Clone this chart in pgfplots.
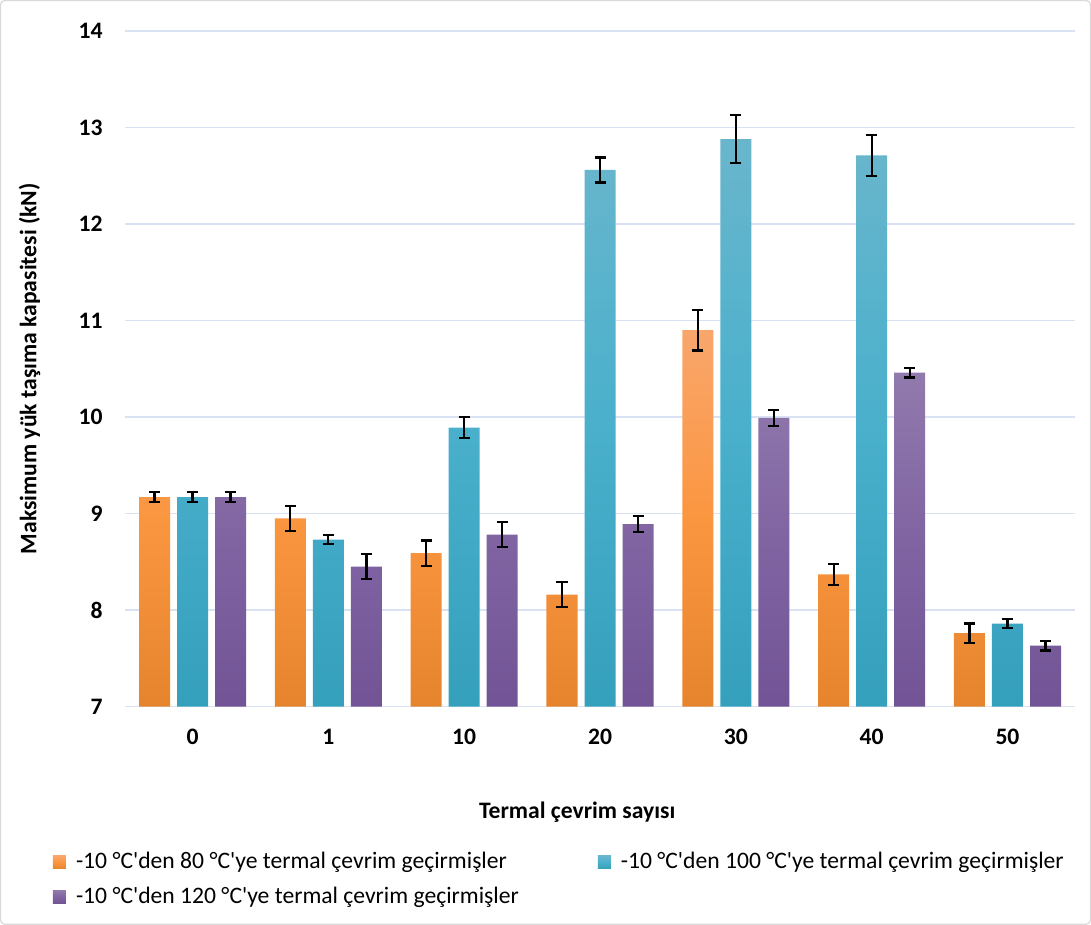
\documentclass[border=0pt]{standalone}
\usepackage{pgfplots}
\pgfplotsset{compat=1.18}
\usepackage{fontspec}
\setmainfont{Carlito}[Ligatures=TeXOff]
\definecolor{gridc}{HTML}{D9E2F3}
\definecolor{oTop}{HTML}{F9A66C}
\definecolor{oMid}{HTML}{FB9640}
\definecolor{oBot}{HTML}{E6842E}
\definecolor{bTop}{HTML}{69B6CC}
\definecolor{bMid}{HTML}{4AB0CC}
\definecolor{bBot}{HTML}{35A0BC}
\definecolor{pTop}{HTML}{917AAD}
\definecolor{pMid}{HTML}{8064A2}
\definecolor{pBot}{HTML}{725496}
\begin{document}
\begin{tikzpicture}
\begin{axis}[
  scale only axis, width=475pt, height=337.5pt,
  ybar=3.5pt, bar width=15.5pt,
  xmin=-0.5, xmax=6.5, ymin=7, ymax=14,
  y coord trafo/.code={\pgfmathparse{#1-7}},
  y coord inv trafo/.code={\pgfmathparse{#1+7}},
  ytick={7,8,9,10,11,12,13,14},
  xtick={0,1,2,3,4,5,6}, xticklabels={0,1,10,20,30,40,50},
  ymajorgrids, grid style={gridc, line width=0.9pt},
  axis line style={draw=none},
  major tick length=0pt,
  tick label style={font=\fontsize{11.8}{14}\selectfont\bfseries},
  /pgf/number format/assume math mode=true,
  yticklabel style={xshift=-7.5pt},
  xticklabel style={yshift=-7.6pt},
  xlabel={Termal çevrim sayısı},
  ylabel={Maksimum yük taşıma kapasitesi (kN)},
  label style={font=\fontsize{11.8}{14}\selectfont\bfseries},
  xlabel style={at={(axis description cs:0.476,-0.157)}, anchor=center},
  ylabel style={at={(axis description cs:-0.1,0.5)}, anchor=center},
  legend style={at={(axis description cs:-0.0758,-0.2110)}, anchor=north west, draw=none, fill=none,
    inner sep=0pt, nodes={inner sep=1.5pt},
    font=\fontsize{11.8}{14}\selectfont, /tikz/every even column/.append style={column sep=38pt}, row sep=4.5pt},
  legend columns=2,
  legend cell align=left,
  legend image code/.code={\fill[#1] (0pt,-3.25pt) rectangle (6.5pt,3.25pt); \path (0pt,0pt) -- (10pt,0pt);},
  error bars/y dir=both, error bars/y explicit,
  error bars/error bar style={line width=1.1pt, black},
  error bars/error mark options={rotate=90, mark size=2.75pt, line width=1.1pt, black},
  clip=false,
]
\addplot[draw=none, top color=oTop, bottom color=oBot, middle color=oMid] coordinates {
  (0,9.17) +- (0,0.05) (1,8.95) +- (0,0.13) (2,8.59) +- (0,0.13) (3,8.16) +- (0,0.13)
  (4,10.90) +- (0,0.21) (5,8.37) +- (0,0.11) (6,7.76) +- (0,0.10)};
\addplot[draw=none, top color=bTop, bottom color=bBot, middle color=bMid] coordinates {
  (0,9.17) +- (0,0.05) (1,8.73) +- (0,0.05) (2,9.89) +- (0,0.11) (3,12.56) +- (0,0.13)
  (4,12.88) +- (0,0.25) (5,12.71) +- (0,0.21) (6,7.86) +- (0,0.05)};
\addplot[draw=none, top color=pTop, bottom color=pBot, middle color=pMid] coordinates {
  (0,9.17) +- (0,0.05) (1,8.45) +- (0,0.13) (2,8.78) +- (0,0.13) (3,8.89) +- (0,0.08)
  (4,9.99) +- (0,0.08) (5,10.46) +- (0,0.05) (6,7.63) +- (0,0.05)};
\legend{-10 °C'den 80 °C'ye termal çevrim geçirmişler, -10 °C'den 100 °C'ye termal çevrim geçirmişler, -10 °C'den 120 °C'ye termal çevrim geçirmişler}
\coordinate (bl) at (axis description cs:-0.1305,-0.3222);
\coordinate (tr) at (axis description cs:1.0158,1.0450);
\end{axis}
\draw[gray!30, line width=0.6pt, rounded corners=2pt] (bl) rectangle (tr);
\end{tikzpicture}
\end{document}
